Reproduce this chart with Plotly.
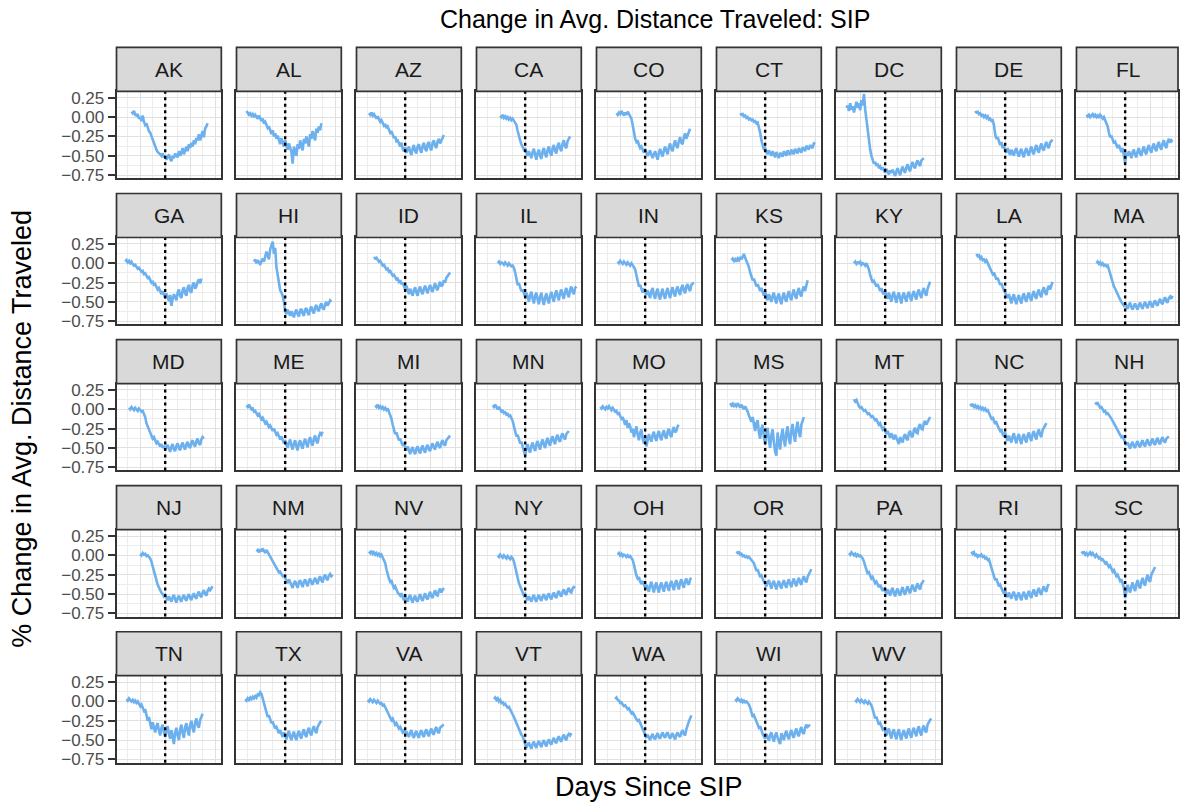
import plotly.graph_objects as go

# ---- data: daily % change in average distance traveled, by days since SIP ----
STATES = ["AK", "AL", "AZ", "CA", "CO", "CT", "DC", "DE", "FL",
          "GA", "HI", "ID", "IL", "IN", "KS", "KY", "LA", "MA",
          "MD", "ME", "MI", "MN", "MO", "MS", "MT", "NC", "NH",
          "NJ", "NM", "NV", "NY", "OH", "OR", "PA", "RI", "SC",
          "TN", "TX", "VA", "VT", "WA", "WI", "WV"]

# first day (relative to SIP order) of each state's series
START_DAYS = [-27, -31, -29, -20, -23, -20, -31, -24, -31,
              -32, -25, -25, -22, -22, -27, -25, -23, -23,
              -29, -31, -24, -26, -36, -28, -25, -28, -24,
              -20, -23, -29, -22, -22, -23, -29, -27, -35,
              -31, -32, -30, -25, -24, -24, -24]

ak = [0.07, 0.05, 0.08, 0.03, 0.02, 0.04, -0.02, 0.00, -0.05, 0.02, -0.06, -0.10, -0.08, -0.15, -0.18, -0.20,
      -0.25, -0.28, -0.33, -0.38, -0.42, -0.45, -0.46, -0.48, -0.50, -0.47, -0.52, -0.50, -0.55, -0.52, -0.48, -0.54,
      -0.57, -0.50, -0.53, -0.47, -0.49, -0.52, -0.44, -0.50, -0.46, -0.40, -0.48, -0.42, -0.38, -0.44, -0.35, -0.40,
      -0.33, -0.38, -0.30, -0.35, -0.27, -0.30, -0.22, -0.30, -0.25, -0.18, -0.26, -0.15, -0.12, -0.08]
al = [0.08, 0.06, 0.03, 0.05, 0.02, 0.04, 0.00, 0.03, 0.01, -0.02, 0.02, -0.03, -0.05, -0.02, -0.08, -0.06,
      -0.10, -0.14, -0.12, -0.18, -0.22, -0.17, -0.25, -0.21, -0.28, -0.24, -0.31, -0.35, -0.27, -0.33, -0.38, -0.30,
      -0.36, -0.42, -0.34, -0.40, -0.45, -0.60, -0.38, -0.44, -0.50, -0.35, -0.41, -0.30, -0.37, -0.43, -0.28, -0.34,
      -0.25, -0.31, -0.38, -0.22, -0.28, -0.18, -0.25, -0.30, -0.15, -0.20, -0.12, -0.17, -0.08]
az = [0.05, 0.03, 0.06, 0.02, 0.04, 0.00, -0.02, 0.01, -0.03, -0.06, -0.04, -0.08, -0.11, -0.09, -0.14, -0.12,
      -0.16, -0.20, -0.18, -0.24, -0.27, -0.25, -0.31, -0.30, -0.35, -0.38, -0.33, -0.41, -0.44, -0.39, -0.46, -0.42,
      -0.38, -0.45, -0.49, -0.40, -0.36, -0.44, -0.47, -0.38, -0.35, -0.42, -0.46, -0.37, -0.33, -0.41, -0.44, -0.35,
      -0.32, -0.40, -0.43, -0.33, -0.30, -0.37, -0.40, -0.31, -0.28, -0.34, -0.30, -0.26, -0.23]
ca = [0.02, 0.00, 0.03, -0.01, 0.01, -0.02, 0.00, -0.03, -0.01, -0.04, -0.02, -0.05, -0.06, -0.10, -0.18, -0.26,
      -0.30, -0.35, -0.38, -0.42, -0.40, -0.46, -0.50, -0.44, -0.48, -0.53, -0.45, -0.41, -0.49, -0.55, -0.46, -0.42,
      -0.50, -0.54, -0.44, -0.40, -0.48, -0.52, -0.42, -0.38, -0.46, -0.50, -0.40, -0.36, -0.44, -0.47, -0.37, -0.33,
      -0.41, -0.44, -0.34, -0.30, -0.38, -0.40, -0.31, -0.27, -0.25]
co = [0.05, 0.03, 0.06, 0.04, 0.08, 0.05, 0.02, 0.06, 0.03, 0.07, 0.04, 0.00, -0.02, -0.10, -0.20, -0.28,
      -0.32, -0.30, -0.36, -0.40, -0.38, -0.43, -0.46, -0.41, -0.45, -0.50, -0.47, -0.43, -0.49, -0.53, -0.48, -0.44,
      -0.50, -0.55, -0.46, -0.41, -0.47, -0.51, -0.43, -0.38, -0.44, -0.48, -0.39, -0.34, -0.41, -0.44, -0.35, -0.30,
      -0.37, -0.40, -0.31, -0.26, -0.33, -0.35, -0.26, -0.21, -0.28, -0.24, -0.19, -0.15]
ct = [0.05, 0.03, 0.04, 0.01, 0.02, -0.01, 0.00, -0.03, -0.02, -0.04, -0.03, -0.06, -0.05, -0.08, -0.07, -0.12,
      -0.20, -0.30, -0.37, -0.42, -0.40, -0.45, -0.48, -0.43, -0.46, -0.50, -0.44, -0.47, -0.52, -0.45, -0.49, -0.53,
      -0.46, -0.48, -0.51, -0.44, -0.47, -0.50, -0.43, -0.46, -0.49, -0.42, -0.45, -0.48, -0.41, -0.44, -0.47, -0.40,
      -0.43, -0.46, -0.39, -0.42, -0.44, -0.37, -0.40, -0.42, -0.36, -0.38, -0.40, -0.34, -0.33]
dc = [0.12, 0.15, 0.08, 0.18, 0.10, 0.14, 0.06, 0.16, 0.20, 0.12, 0.18, 0.09, 0.22, 0.15, 0.30, 0.10,
      -0.05, -0.20, -0.32, -0.42, -0.50, -0.55, -0.60, -0.58, -0.63, -0.60, -0.66, -0.64, -0.68, -0.65, -0.70, -0.72,
      -0.67, -0.70, -0.74, -0.69, -0.72, -0.68, -0.73, -0.76, -0.70, -0.66, -0.71, -0.75, -0.68, -0.64, -0.69, -0.72,
      -0.65, -0.61, -0.67, -0.70, -0.62, -0.58, -0.64, -0.66, -0.59, -0.56, -0.61, -0.63, -0.56, -0.54, -0.53]
de = [0.08, 0.06, 0.07, 0.04, 0.05, 0.02, 0.03, 0.00, 0.02, -0.01, 0.01, -0.03, -0.02, -0.05, -0.04, -0.10,
      -0.22, -0.28, -0.26, -0.33, -0.36, -0.32, -0.40, -0.38, -0.42, -0.46, -0.40, -0.44, -0.49, -0.42, -0.46, -0.50,
      -0.43, -0.40, -0.47, -0.51, -0.44, -0.41, -0.48, -0.52, -0.44, -0.40, -0.46, -0.50, -0.42, -0.38, -0.45, -0.48,
      -0.40, -0.36, -0.43, -0.46, -0.38, -0.34, -0.41, -0.43, -0.36, -0.32, -0.38, -0.40, -0.33, -0.30, -0.29]
fl = [0.03, 0.01, 0.03, 0.00, 0.02, 0.04, 0.01, 0.03, 0.00, 0.02, -0.01, 0.03, 0.01, -0.02, 0.00, -0.04,
      -0.06, -0.12, -0.20, -0.26, -0.24, -0.30, -0.34, -0.32, -0.37, -0.40, -0.36, -0.42, -0.45, -0.40, -0.48, -0.60,
      -0.46, -0.50, -0.44, -0.48, -0.53, -0.45, -0.42, -0.49, -0.52, -0.44, -0.40, -0.47, -0.50, -0.42, -0.38, -0.45,
      -0.48, -0.40, -0.36, -0.43, -0.46, -0.38, -0.34, -0.41, -0.44, -0.36, -0.32, -0.39, -0.42, -0.34, -0.30, -0.37,
      -0.40, -0.32, -0.28, -0.33, -0.30, -0.32]
ga = [0.02, 0.04, 0.01, 0.03, 0.00, 0.02, -0.01, -0.03, -0.02, -0.05, -0.07, -0.06, -0.09, -0.11, -0.10, -0.14,
      -0.13, -0.17, -0.19, -0.18, -0.22, -0.25, -0.23, -0.28, -0.27, -0.31, -0.34, -0.32, -0.37, -0.40, -0.36, -0.42,
      -0.45, -0.39, -0.44, -0.49, -0.41, -0.55, -0.46, -0.40, -0.44, -0.48, -0.38, -0.34, -0.42, -0.45, -0.35, -0.31,
      -0.39, -0.42, -0.32, -0.28, -0.36, -0.38, -0.28, -0.25, -0.33, -0.30, -0.24, -0.21, -0.26, -0.20]
hi = [0.02, 0.05, 0.00, 0.04, 0.01, -0.02, 0.03, 0.06, 0.02, 0.08, 0.15, 0.10, 0.05, 0.18, 0.22, 0.28,
      0.12, 0.20, -0.05, -0.15, -0.28, -0.35, -0.38, -0.42, -0.50, -0.62, -0.66, -0.60, -0.64, -0.68, -0.62, -0.65,
      -0.70, -0.63, -0.60, -0.66, -0.69, -0.61, -0.59, -0.65, -0.68, -0.60, -0.58, -0.64, -0.67, -0.59, -0.56, -0.62,
      -0.65, -0.57, -0.54, -0.60, -0.62, -0.55, -0.52, -0.58, -0.60, -0.53, -0.50, -0.55, -0.52, -0.48, -0.50]
id_ = [0.08, 0.06, 0.07, 0.04, 0.02, 0.03, -0.01, -0.03, -0.02, -0.06, -0.08, -0.07, -0.11, -0.10, -0.14, -0.16,
       -0.15, -0.19, -0.21, -0.20, -0.24, -0.22, -0.27, -0.25, -0.30, -0.34, -0.29, -0.36, -0.40, -0.33, -0.37, -0.42,
       -0.35, -0.31, -0.38, -0.42, -0.34, -0.30, -0.37, -0.40, -0.33, -0.29, -0.35, -0.39, -0.32, -0.28, -0.34, -0.37,
       -0.30, -0.26, -0.32, -0.35, -0.28, -0.24, -0.30, -0.28, -0.22, -0.25, -0.19, -0.16, -0.14, -0.12]
il = [0.00, 0.02, -0.01, 0.01, 0.00, -0.02, 0.01, -0.01, -0.03, 0.00, -0.02, -0.04, -0.03, -0.06, -0.12, -0.20,
      -0.28, -0.26, -0.32, -0.36, -0.34, -0.40, -0.43, -0.38, -0.44, -0.50, -0.41, -0.37, -0.46, -0.52, -0.42, -0.38,
      -0.47, -0.53, -0.43, -0.38, -0.48, -0.54, -0.44, -0.39, -0.47, -0.52, -0.42, -0.37, -0.45, -0.50, -0.40, -0.35,
      -0.43, -0.48, -0.38, -0.34, -0.42, -0.46, -0.36, -0.32, -0.40, -0.44, -0.34, -0.30, -0.37, -0.40, -0.32, -0.30]
in_ = [0.02, 0.00, 0.03, 0.01, -0.01, 0.02, 0.00, -0.02, 0.01, -0.01, -0.03, 0.00, -0.02, -0.05, -0.08, -0.15,
       -0.25, -0.30, -0.28, -0.34, -0.38, -0.33, -0.37, -0.41, -0.35, -0.40, -0.45, -0.36, -0.32, -0.41, -0.46, -0.37,
       -0.33, -0.42, -0.47, -0.38, -0.33, -0.42, -0.46, -0.37, -0.32, -0.40, -0.45, -0.36, -0.31, -0.39, -0.43, -0.34,
       -0.30, -0.37, -0.41, -0.32, -0.28, -0.35, -0.39, -0.30, -0.27, -0.33, -0.36, -0.28, -0.26, -0.25]
ks = [0.04, 0.06, 0.03, 0.05, 0.02, 0.06, 0.04, 0.08, 0.05, 0.09, 0.12, 0.07, 0.03, 0.00, -0.05, -0.12,
      -0.18, -0.22, -0.20, -0.26, -0.30, -0.27, -0.33, -0.36, -0.32, -0.38, -0.42, -0.36, -0.44, -0.48, -0.40, -0.45,
      -0.50, -0.42, -0.38, -0.47, -0.52, -0.43, -0.39, -0.48, -0.53, -0.43, -0.38, -0.46, -0.50, -0.41, -0.36, -0.44,
      -0.48, -0.39, -0.34, -0.42, -0.46, -0.37, -0.32, -0.40, -0.43, -0.34, -0.30, -0.36, -0.27, -0.22]
ky = [0.00, 0.02, -0.01, 0.01, 0.00, 0.02, -0.02, 0.00, -0.01, -0.03, 0.00, -0.04, -0.08, -0.15, -0.22, -0.25,
      -0.23, -0.28, -0.30, -0.27, -0.33, -0.36, -0.32, -0.38, -0.40, -0.35, -0.42, -0.46, -0.38, -0.44, -0.50, -0.41,
      -0.37, -0.45, -0.51, -0.42, -0.38, -0.46, -0.52, -0.42, -0.38, -0.45, -0.50, -0.41, -0.37, -0.44, -0.49, -0.40,
      -0.36, -0.43, -0.47, -0.38, -0.34, -0.41, -0.45, -0.36, -0.32, -0.39, -0.42, -0.33, -0.28, -0.24]
la = [0.12, 0.09, 0.10, 0.06, 0.08, 0.04, 0.05, 0.02, 0.04, 0.00, -0.03, -0.06, -0.10, -0.14, -0.12, -0.18,
      -0.21, -0.19, -0.25, -0.28, -0.26, -0.32, -0.35, -0.38, -0.42, -0.45, -0.40, -0.47, -0.52, -0.44, -0.40, -0.48,
      -0.53, -0.45, -0.41, -0.48, -0.52, -0.43, -0.39, -0.46, -0.50, -0.42, -0.38, -0.45, -0.49, -0.40, -0.36, -0.43,
      -0.46, -0.38, -0.34, -0.41, -0.44, -0.35, -0.31, -0.38, -0.41, -0.33, -0.29, -0.34, -0.28, -0.24]
ma = [0.00, 0.02, -0.01, 0.01, -0.02, 0.00, -0.03, -0.02, -0.04, -0.03, -0.08, -0.14, -0.20, -0.26, -0.30, -0.33,
      -0.37, -0.40, -0.43, -0.47, -0.50, -0.53, -0.55, -0.52, -0.56, -0.59, -0.54, -0.51, -0.57, -0.60, -0.55, -0.52,
      -0.57, -0.60, -0.54, -0.51, -0.56, -0.59, -0.53, -0.50, -0.55, -0.58, -0.52, -0.49, -0.54, -0.57, -0.51, -0.48,
      -0.53, -0.55, -0.49, -0.46, -0.51, -0.53, -0.47, -0.44, -0.49, -0.51, -0.45, -0.43, -0.46, -0.42]
md = [0.02, 0.00, 0.03, 0.01, -0.01, 0.02, 0.00, -0.02, 0.01, -0.01, -0.03, -0.02, -0.05, -0.10, -0.18, -0.22,
      -0.26, -0.30, -0.34, -0.38, -0.36, -0.41, -0.44, -0.42, -0.46, -0.48, -0.45, -0.50, -0.47, -0.52, -0.49, -0.46,
      -0.51, -0.55, -0.48, -0.45, -0.52, -0.54, -0.47, -0.44, -0.50, -0.53, -0.46, -0.43, -0.49, -0.52, -0.45, -0.42,
      -0.48, -0.50, -0.43, -0.40, -0.46, -0.48, -0.41, -0.38, -0.44, -0.46, -0.39, -0.36, -0.38]
me = [0.05, 0.03, 0.06, 0.02, 0.00, 0.01, -0.03, -0.02, -0.05, -0.08, -0.06, -0.10, -0.13, -0.11, -0.15, -0.18,
      -0.16, -0.20, -0.23, -0.21, -0.26, -0.28, -0.25, -0.30, -0.33, -0.31, -0.36, -0.39, -0.35, -0.41, -0.44, -0.40,
      -0.45, -0.50, -0.43, -0.39, -0.47, -0.52, -0.44, -0.40, -0.48, -0.53, -0.44, -0.40, -0.47, -0.51, -0.42, -0.38,
      -0.45, -0.49, -0.40, -0.36, -0.43, -0.47, -0.38, -0.34, -0.41, -0.44, -0.35, -0.31, -0.33, -0.29]
mi = [0.05, 0.03, 0.06, 0.02, 0.04, 0.01, 0.03, 0.00, 0.02, -0.01, 0.01, -0.03, -0.06, -0.12, -0.20, -0.28,
      -0.32, -0.30, -0.36, -0.40, -0.38, -0.44, -0.47, -0.45, -0.50, -0.53, -0.48, -0.55, -0.58, -0.52, -0.49, -0.55,
      -0.58, -0.51, -0.48, -0.54, -0.57, -0.50, -0.47, -0.53, -0.56, -0.49, -0.46, -0.52, -0.54, -0.47, -0.44, -0.50,
      -0.52, -0.45, -0.42, -0.48, -0.50, -0.43, -0.40, -0.45, -0.47, -0.40, -0.37, -0.36, -0.34]
mn = [0.05, 0.03, 0.06, 0.02, 0.00, 0.03, -0.01, -0.03, -0.02, -0.05, -0.04, -0.07, -0.06, -0.09, -0.08, -0.11,
      -0.15, -0.22, -0.30, -0.35, -0.33, -0.40, -0.44, -0.42, -0.48, -0.52, -0.60, -0.50, -0.45, -0.52, -0.56, -0.47,
      -0.43, -0.50, -0.54, -0.45, -0.41, -0.48, -0.52, -0.43, -0.39, -0.46, -0.50, -0.41, -0.37, -0.44, -0.47, -0.38,
      -0.35, -0.42, -0.45, -0.36, -0.33, -0.40, -0.42, -0.34, -0.31, -0.37, -0.39, -0.32, -0.30, -0.28]
mo = [0.03, 0.01, 0.04, 0.02, 0.00, 0.03, 0.01, 0.04, 0.02, -0.01, 0.02, 0.00, -0.03, -0.02, -0.06, -0.05,
      -0.09, -0.12, -0.10, -0.15, -0.20, -0.14, -0.24, -0.18, -0.22, -0.30, -0.25, -0.36, -0.28, -0.22, -0.33, -0.40,
      -0.30, -0.26, -0.38, -0.44, -0.35, -0.48, -0.40, -0.32, -0.38, -0.42, -0.33, -0.29, -0.37, -0.41, -0.32, -0.28,
      -0.36, -0.40, -0.31, -0.27, -0.35, -0.38, -0.29, -0.25, -0.33, -0.36, -0.27, -0.23, -0.30, -0.28, -0.22, -0.20]
ms = [0.08, 0.05, 0.07, 0.03, 0.06, 0.04, 0.08, 0.05, 0.02, 0.06, 0.03, 0.00, 0.04, 0.01, -0.03, -0.08,
      -0.12, -0.16, -0.10, -0.22, -0.28, -0.18, -0.14, -0.30, -0.38, -0.25, -0.20, -0.36, -0.45, -0.30, -0.24, -0.40,
      -0.50, -0.33, -0.26, -0.42, -0.55, -0.60, -0.30, -0.44, -0.52, -0.34, -0.25, -0.40, -0.48, -0.30, -0.22, -0.38,
      -0.45, -0.27, -0.19, -0.34, -0.42, -0.24, -0.16, -0.30, -0.36, -0.20, -0.14, -0.10]
mt = [0.13, 0.10, 0.12, 0.07, 0.04, 0.02, 0.03, 0.00, -0.02, -0.01, -0.04, -0.06, -0.05, -0.08, -0.10, -0.09,
      -0.12, -0.14, -0.13, -0.17, -0.20, -0.18, -0.23, -0.26, -0.24, -0.29, -0.32, -0.28, -0.34, -0.37, -0.31, -0.35,
      -0.39, -0.33, -0.37, -0.42, -0.45, -0.36, -0.40, -0.43, -0.35, -0.32, -0.38, -0.40, -0.31, -0.28, -0.34, -0.36,
      -0.27, -0.24, -0.30, -0.31, -0.22, -0.19, -0.25, -0.26, -0.18, -0.15, -0.20, -0.16, -0.12, -0.10]
nc = [0.07, 0.05, 0.06, 0.03, 0.05, 0.02, 0.04, 0.01, 0.03, 0.00, 0.02, -0.01, 0.01, -0.02, -0.01, -0.05,
      -0.08, -0.12, -0.10, -0.15, -0.19, -0.17, -0.22, -0.25, -0.28, -0.26, -0.32, -0.35, -0.30, -0.37, -0.41, -0.34,
      -0.38, -0.43, -0.35, -0.31, -0.39, -0.44, -0.36, -0.32, -0.40, -0.45, -0.36, -0.32, -0.39, -0.43, -0.34, -0.30,
      -0.37, -0.41, -0.32, -0.28, -0.35, -0.39, -0.30, -0.26, -0.33, -0.36, -0.27, -0.23, -0.21, -0.18]
nh = [0.09, 0.07, 0.08, 0.04, 0.02, 0.03, -0.01, -0.03, -0.02, -0.06, -0.05, -0.08, -0.10, -0.12, -0.15, -0.18,
      -0.22, -0.25, -0.28, -0.30, -0.33, -0.36, -0.35, -0.38, -0.42, -0.46, -0.43, -0.48, -0.51, -0.45, -0.42, -0.48,
      -0.50, -0.44, -0.41, -0.47, -0.49, -0.43, -0.40, -0.46, -0.48, -0.42, -0.39, -0.45, -0.47, -0.41, -0.38, -0.44,
      -0.46, -0.40, -0.37, -0.43, -0.45, -0.39, -0.36, -0.41, -0.43, -0.38, -0.36, -0.35]
nj = [0.02, 0.00, 0.03, 0.01, 0.02, -0.01, 0.00, -0.02, -0.04, -0.08, -0.15, -0.22, -0.27, -0.32, -0.38, -0.42,
      -0.45, -0.48, -0.50, -0.53, -0.51, -0.55, -0.58, -0.53, -0.56, -0.60, -0.54, -0.51, -0.57, -0.61, -0.55, -0.52,
      -0.57, -0.60, -0.54, -0.51, -0.56, -0.59, -0.53, -0.50, -0.55, -0.58, -0.52, -0.49, -0.54, -0.56, -0.50, -0.47,
      -0.52, -0.54, -0.48, -0.45, -0.50, -0.52, -0.46, -0.43, -0.45, -0.42, -0.40]
nm = [0.05, 0.07, 0.04, 0.08, 0.05, 0.09, 0.06, 0.03, 0.07, 0.04, 0.01, -0.03, -0.06, -0.09, -0.12, -0.15,
      -0.17, -0.20, -0.22, -0.21, -0.25, -0.27, -0.26, -0.30, -0.32, -0.36, -0.31, -0.34, -0.39, -0.42, -0.36, -0.33,
      -0.38, -0.42, -0.35, -0.32, -0.37, -0.41, -0.34, -0.31, -0.36, -0.40, -0.33, -0.30, -0.35, -0.38, -0.32, -0.29,
      -0.34, -0.37, -0.30, -0.27, -0.32, -0.35, -0.28, -0.25, -0.30, -0.32, -0.26, -0.24, -0.27, -0.25]
nv = [0.05, 0.03, 0.06, 0.02, 0.04, 0.01, 0.03, 0.00, 0.02, -0.01, 0.01, -0.02, -0.05, -0.10, -0.18, -0.25,
      -0.30, -0.34, -0.32, -0.38, -0.42, -0.40, -0.45, -0.48, -0.50, -0.52, -0.49, -0.55, -0.58, -0.53, -0.56, -0.60,
      -0.54, -0.51, -0.57, -0.61, -0.55, -0.52, -0.58, -0.60, -0.54, -0.50, -0.56, -0.59, -0.53, -0.49, -0.55, -0.57,
      -0.51, -0.47, -0.53, -0.55, -0.49, -0.45, -0.51, -0.52, -0.46, -0.43, -0.48, -0.44, -0.42]
ny = [0.00, -0.02, 0.01, -0.01, -0.03, 0.00, -0.02, -0.04, -0.01, -0.03, -0.05, -0.02, -0.04, -0.08, -0.15, -0.25,
      -0.30, -0.36, -0.40, -0.45, -0.48, -0.52, -0.50, -0.55, -0.58, -0.53, -0.56, -0.60, -0.54, -0.51, -0.57, -0.60,
      -0.54, -0.51, -0.56, -0.59, -0.53, -0.50, -0.55, -0.58, -0.52, -0.49, -0.54, -0.57, -0.51, -0.48, -0.53, -0.55,
      -0.49, -0.46, -0.51, -0.53, -0.47, -0.44, -0.49, -0.51, -0.45, -0.42, -0.47, -0.48, -0.43, -0.41, -0.42]
oh = [0.01, 0.03, 0.00, 0.02, -0.01, 0.01, 0.00, -0.02, 0.00, -0.02, -0.01, -0.04, -0.06, -0.12, -0.20, -0.26,
      -0.30, -0.28, -0.34, -0.37, -0.33, -0.39, -0.42, -0.38, -0.43, -0.47, -0.38, -0.34, -0.42, -0.48, -0.39, -0.35,
      -0.43, -0.48, -0.39, -0.35, -0.42, -0.47, -0.38, -0.34, -0.41, -0.46, -0.37, -0.33, -0.40, -0.45, -0.36, -0.32,
      -0.39, -0.44, -0.35, -0.31, -0.38, -0.42, -0.33, -0.30, -0.36, -0.38, -0.31, -0.29]
or_ = [0.05, 0.03, 0.04, 0.01, 0.02, -0.01, 0.00, -0.02, -0.01, -0.03, -0.02, -0.04, -0.05, -0.07, -0.10, -0.15,
       -0.20, -0.18, -0.24, -0.28, -0.26, -0.31, -0.34, -0.37, -0.40, -0.35, -0.32, -0.38, -0.43, -0.36, -0.33, -0.39,
       -0.44, -0.37, -0.33, -0.39, -0.43, -0.36, -0.32, -0.38, -0.42, -0.35, -0.31, -0.37, -0.41, -0.34, -0.30, -0.36,
       -0.40, -0.33, -0.29, -0.35, -0.38, -0.31, -0.27, -0.32, -0.35, -0.28, -0.24, -0.21, -0.18]
pa = [0.03, 0.01, 0.04, 0.02, 0.00, 0.02, -0.01, 0.01, -0.01, 0.00, -0.02, -0.04, -0.08, -0.14, -0.20, -0.24,
      -0.22, -0.27, -0.30, -0.28, -0.33, -0.36, -0.34, -0.39, -0.41, -0.38, -0.43, -0.46, -0.42, -0.47, -0.50, -0.44,
      -0.48, -0.52, -0.45, -0.42, -0.49, -0.53, -0.46, -0.43, -0.49, -0.52, -0.45, -0.41, -0.48, -0.51, -0.44, -0.40,
      -0.46, -0.49, -0.42, -0.38, -0.44, -0.47, -0.40, -0.36, -0.42, -0.44, -0.37, -0.34, -0.32]
ri = [0.05, 0.02, 0.04, 0.00, 0.01, -0.02, 0.00, -0.01, 0.01, -0.02, -0.01, -0.04, -0.03, -0.06, -0.05, -0.10,
      -0.16, -0.22, -0.28, -0.32, -0.30, -0.36, -0.40, -0.38, -0.43, -0.46, -0.49, -0.45, -0.51, -0.54, -0.48, -0.52,
      -0.56, -0.50, -0.47, -0.53, -0.58, -0.51, -0.48, -0.54, -0.58, -0.51, -0.47, -0.53, -0.57, -0.50, -0.46, -0.52,
      -0.55, -0.48, -0.44, -0.50, -0.53, -0.46, -0.42, -0.48, -0.51, -0.44, -0.40, -0.45, -0.47, -0.40, -0.37]
sc = [0.05, 0.03, 0.04, 0.01, 0.03, 0.00, 0.02, 0.04, 0.01, 0.03, 0.00, -0.02, 0.01, -0.01, -0.04, -0.03,
      -0.06, -0.05, -0.08, -0.10, -0.09, -0.12, -0.15, -0.13, -0.18, -0.21, -0.19, -0.24, -0.27, -0.25, -0.30, -0.33,
      -0.31, -0.38, -0.42, -0.55, -0.45, -0.38, -0.44, -0.48, -0.40, -0.35, -0.42, -0.46, -0.37, -0.32, -0.39, -0.43,
      -0.34, -0.29, -0.36, -0.39, -0.30, -0.25, -0.32, -0.34, -0.25, -0.21, -0.18, -0.15]
tn = [0.03, 0.01, 0.04, 0.02, 0.00, 0.02, -0.01, 0.01, -0.02, 0.00, -0.03, -0.06, -0.04, -0.09, -0.12, -0.10,
      -0.18, -0.25, -0.20, -0.30, -0.36, -0.27, -0.33, -0.40, -0.32, -0.28, -0.38, -0.44, -0.34, -0.30, -0.40, -0.46,
      -0.36, -0.32, -0.42, -0.48, -0.37, -0.45, -0.55, -0.40, -0.34, -0.44, -0.50, -0.36, -0.30, -0.41, -0.47, -0.33,
      -0.28, -0.38, -0.44, -0.30, -0.25, -0.35, -0.40, -0.27, -0.22, -0.31, -0.34, -0.24, -0.20, -0.16]
tx = [0.03, 0.01, 0.04, 0.02, 0.05, 0.03, 0.06, 0.04, 0.07, 0.05, 0.09, 0.08, 0.12, 0.10, 0.04, -0.02,
      -0.08, -0.15, -0.20, -0.18, -0.25, -0.28, -0.26, -0.32, -0.35, -0.33, -0.38, -0.41, -0.37, -0.43, -0.46, -0.40,
      -0.44, -0.49, -0.42, -0.38, -0.46, -0.50, -0.43, -0.39, -0.46, -0.50, -0.42, -0.38, -0.45, -0.48, -0.40, -0.36,
      -0.43, -0.46, -0.38, -0.34, -0.41, -0.44, -0.36, -0.32, -0.38, -0.41, -0.33, -0.29, -0.27, -0.25]
va = [0.02, 0.00, 0.03, 0.01, -0.01, 0.02, 0.00, -0.02, 0.01, -0.01, -0.03, -0.02, -0.05, -0.04, -0.07, -0.10,
      -0.13, -0.16, -0.20, -0.24, -0.22, -0.27, -0.30, -0.28, -0.32, -0.35, -0.33, -0.37, -0.40, -0.38, -0.42, -0.39,
      -0.43, -0.46, -0.40, -0.37, -0.44, -0.47, -0.41, -0.38, -0.44, -0.47, -0.40, -0.37, -0.43, -0.46, -0.39, -0.36,
      -0.42, -0.45, -0.38, -0.35, -0.41, -0.43, -0.36, -0.33, -0.39, -0.41, -0.34, -0.32, -0.31, -0.30]
vt = [0.03, 0.05, 0.02, 0.04, 0.00, 0.02, -0.02, -0.01, -0.04, -0.03, -0.06, -0.08, -0.07, -0.10, -0.12, -0.16,
      -0.20, -0.24, -0.28, -0.32, -0.36, -0.40, -0.43, -0.45, -0.50, -0.55, -0.60, -0.56, -0.53, -0.58, -0.61, -0.55,
      -0.52, -0.57, -0.60, -0.54, -0.51, -0.56, -0.59, -0.53, -0.50, -0.55, -0.58, -0.52, -0.49, -0.54, -0.56, -0.50,
      -0.47, -0.52, -0.54, -0.48, -0.45, -0.50, -0.52, -0.46, -0.43, -0.48, -0.50, -0.44, -0.42, -0.44, -0.41]
wa = [0.03, 0.05, 0.02, 0.01, -0.02, -0.01, -0.04, -0.06, -0.05, -0.08, -0.10, -0.09, -0.13, -0.15, -0.14, -0.18,
      -0.20, -0.23, -0.25, -0.24, -0.28, -0.32, -0.36, -0.40, -0.44, -0.47, -0.43, -0.46, -0.50, -0.45, -0.42, -0.47,
      -0.49, -0.44, -0.41, -0.46, -0.48, -0.43, -0.40, -0.45, -0.47, -0.42, -0.40, -0.45, -0.48, -0.44, -0.41, -0.46,
      -0.49, -0.43, -0.40, -0.44, -0.46, -0.40, -0.37, -0.42, -0.44, -0.36, -0.30, -0.26, -0.22, -0.18]
wi = [0.03, 0.01, 0.04, 0.02, 0.00, 0.02, -0.01, 0.01, -0.01, 0.00, -0.02, -0.04, -0.08, -0.14, -0.20, -0.18,
      -0.22, -0.26, -0.30, -0.34, -0.32, -0.38, -0.42, -0.45, -0.48, -0.42, -0.46, -0.51, -0.43, -0.40, -0.47, -0.52,
      -0.44, -0.40, -0.47, -0.52, -0.55, -0.41, -0.47, -0.50, -0.42, -0.38, -0.45, -0.49, -0.41, -0.37, -0.44, -0.47,
      -0.39, -0.35, -0.42, -0.45, -0.37, -0.33, -0.40, -0.42, -0.34, -0.30, -0.33, -0.31, -0.30]
wv = [0.02, 0.00, 0.03, 0.01, -0.01, 0.02, 0.00, -0.02, 0.01, -0.01, -0.03, 0.00, -0.02, -0.05, -0.10, -0.18,
      -0.22, -0.20, -0.26, -0.30, -0.28, -0.33, -0.36, -0.34, -0.40, -0.44, -0.38, -0.35, -0.43, -0.48, -0.39, -0.36,
      -0.44, -0.49, -0.40, -0.36, -0.45, -0.50, -0.41, -0.37, -0.44, -0.48, -0.39, -0.35, -0.43, -0.47, -0.38, -0.34,
      -0.41, -0.45, -0.36, -0.32, -0.40, -0.44, -0.35, -0.31, -0.38, -0.40, -0.30, -0.26, -0.24, -0.22]

SERIES = [ak, al, az, ca, co, ct, dc, de, fl,
          ga, hi, id_, il, in_, ks, ky, la, ma,
          md, me, mi, mn, mo, ms, mt, nc, nh,
          nj, nm, nv, ny, oh, or_, pa, ri, sc,
          tn, tx, va, vt, wa, wi, wv]

SIP_DAY = 0
Y_TICKS = [0.25, 0.0, -0.25, -0.5, -0.75]
Y_TICK_TEXT = ["0.25", "0.00", "\u22120.25", "\u22120.50", "\u22120.75"]
Y_MINOR = [0.125, -0.125, -0.375, -0.625]
X_TICKS = [-20, 0, 20, 40]
X_MINOR = [-30, -10, 10, 30]
X_RANGE = [-39, 45]
Y_RANGE = [-0.791, 0.333]

# ---- facet geometry (pixels) ----
W, H = 1180, 812
NCOL = 9
COL_LEFT0, COL_STEP, PANEL_W = 116.7, 120.2, 105.0
ROW_TOP0, ROW_STEP = 45.0, 147.9
STRIP_H, PANEL_H = 44.5, 88.0

FONT = "Liberation Sans, Arial, Helvetica, sans-serif"
LINE_COLOR = "#6cb0ee"
GRID_MAJOR = "#e0e0e0"
GRID_MINOR = "#ececec"
BORDER = "#333333"

fig = go.Figure()
shapes = []
annotations = []

for i, (state, start, vals) in enumerate(zip(STATES, START_DAYS, SERIES)):
    r, c = divmod(i, NCOL)
    n = i + 1
    xname = "x" if n == 1 else f"x{n}"
    yname = "y" if n == 1 else f"y{n}"

    left = COL_LEFT0 + c * COL_STEP
    right = min(left + PANEL_W, W)
    xr = [X_RANGE[0], X_RANGE[0] + (right - left) / PANEL_W * (X_RANGE[1] - X_RANGE[0])]
    strip_top = ROW_TOP0 + r * ROW_STEP
    strip_bot = strip_top + STRIP_H
    panel_bot = strip_bot + PANEL_H

    days = [start + k for k in range(len(vals))]
    fig.add_trace(go.Scatter(
        x=days, y=vals, mode="lines", xaxis=xname, yaxis=yname,
        line=dict(color=LINE_COLOR, width=2.6), showlegend=False,
        hoverinfo="skip"))

    first_col = c == 0
    fig.layout[f"xaxis{'' if n == 1 else n}"] = dict(
        domain=[left / W, right / W], range=xr, anchor=yname,
        tickvals=X_TICKS, showticklabels=False, ticks="",
        showgrid=True, gridcolor=GRID_MAJOR, gridwidth=1.1,
        minor=dict(tickvals=X_MINOR, showgrid=True, gridcolor=GRID_MINOR, gridwidth=0.9, ticks=""),
        zeroline=False, showline=True, mirror=True, linecolor=BORDER, linewidth=1.7,
        fixedrange=True)
    fig.layout[f"yaxis{'' if n == 1 else n}"] = dict(
        domain=[1 - panel_bot / H, 1 - strip_bot / H], range=Y_RANGE, anchor=xname,
        tickvals=Y_TICKS, ticktext=Y_TICK_TEXT, showticklabels=first_col,
        ticks="outside" if first_col else "", ticklen=7, tickwidth=2, tickcolor=BORDER,
        tickfont=dict(family=FONT, size=17, color="#4d4d4d"),
        showgrid=True, gridcolor=GRID_MAJOR, gridwidth=1.1,
        minor=dict(tickvals=Y_MINOR, showgrid=True, gridcolor=GRID_MINOR, gridwidth=0.9, ticks=""),
        zeroline=False, showline=True, mirror=True, linecolor=BORDER, linewidth=1.7,
        fixedrange=True)

    # SIP reference line
    shapes.append(dict(type="line", xref=xname, yref=f"{yname} domain",
                       x0=SIP_DAY, x1=SIP_DAY, y0=0, y1=1,
                       line=dict(color="black", width=2.4, dash="3px,3.5px")))
    # facet strip
    shapes.append(dict(type="rect", xref="paper", yref="paper",
                       x0=left / W, x1=right / W, y0=1 - strip_bot / H, y1=1 - strip_top / H,
                       fillcolor="#d9d9d9", line=dict(color=BORDER, width=1.7), layer="above"))
    annotations.append(dict(text=state, xref="paper", yref="paper",
                            x=(left + PANEL_W / 2) / W, y=1 - (strip_top + STRIP_H / 2) / H,
                            xanchor="center", yanchor="middle", showarrow=False,
                            font=dict(family=FONT, size=21, color="#1a1a1a")))

annotations += [
    dict(text="Change in Avg. Distance Traveled: SIP", xref="paper", yref="paper",
         x=656 / W, y=1 - 16 / H, xanchor="center", yanchor="middle", showarrow=False,
         font=dict(family=FONT, size=25, color="black")),
    dict(text="Days Since SIP", xref="paper", yref="paper",
         x=650 / W, y=1 - 794 / H, xanchor="center", yanchor="middle", showarrow=False,
         font=dict(family=FONT, size=27, color="black")),
    dict(text="% Change in Avg. Distance Traveled", xref="paper", yref="paper",
         x=22 / W, y=1 - 431 / H, xanchor="center", yanchor="middle", showarrow=False,
         textangle=-90, font=dict(family=FONT, size=27, color="black")),
]

fig.update_layout(
    width=W, height=H, margin=dict(l=0, r=0, t=0, b=0),
    paper_bgcolor="white", plot_bgcolor="white",
    shapes=shapes, annotations=annotations, showlegend=False,
    font=dict(family=FONT))

fig.write_html("out.html", config={"displayModeBar": False})
